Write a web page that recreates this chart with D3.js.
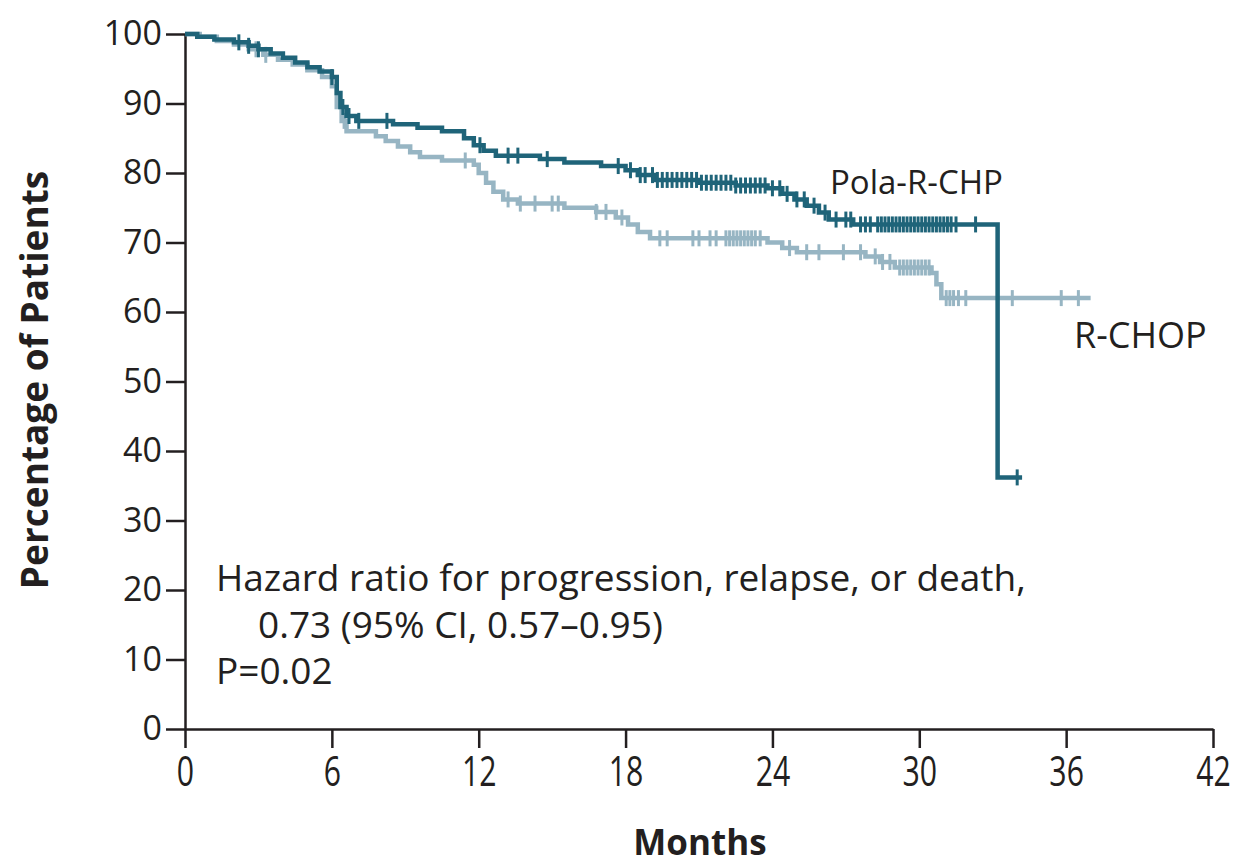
<!DOCTYPE html>
<html>
<head>
<meta charset="utf-8">
<script src="https://cdn.jsdelivr.net/npm/d3@7"></script>
<style>
  body { margin: 0; background: #fff; }
  text { font-family: "Open Sans", "Noto Sans", sans-serif; fill: #231f20; }
</style>
</head>
<body>
<svg id="chart"></svg>
<script>
// Данные: ступенчатые кривые Каплана–Мейера (месяц, процент)
let polaTimes  = [0, 0.5, 1.2, 2.0, 2.6, 3.0, 3.5, 4.0, 4.5, 5.0, 5.5, 6.0, 6.2, 6.35, 6.6, 7.0, 8.5, 9.5, 10.5, 11.4, 11.8, 12.2, 12.7, 14.5, 15.5, 17.0, 18.0, 18.5, 19.2, 21.0, 22.5, 23.8, 24.4, 24.9, 25.4, 25.9, 26.3, 27.3, 33.2];
let polaValues = [100, 99.6, 99.2, 98.8, 98.3, 97.8, 97.2, 96.6, 95.9, 95.2, 94.6, 93.8, 91.5, 89.5, 88.2, 87.5, 87.0, 86.5, 86.0, 85.0, 84.0, 83.2, 82.5, 82.0, 81.5, 81.0, 80.4, 79.7, 79.0, 78.6, 78.2, 77.8, 77.0, 76.2, 75.3, 74.3, 73.3, 72.6, 36.2];
let polaEnd = 34.2;
let polaCensored = [2.2, 2.6, 3.0, 6.0, 6.45, 6.7, 7.1, 8.25, 12.05, 13.2, 13.6, 14.8, 17.7, 18.2, 18.6, 18.8, 19.1, 19.3, 19.5, 19.7, 19.9, 20.1, 20.3, 20.5, 20.7, 20.9, 21.1, 21.3, 21.5, 21.7, 21.9, 22.1, 22.3, 22.5, 22.7, 22.9, 23.1, 23.3, 23.5, 23.7, 24.0, 24.3, 24.6, 25.0, 25.3, 25.7, 26.15, 26.6, 27.0, 27.2, 27.6, 27.8, 28.0, 28.3, 28.45, 28.6, 28.75, 28.9, 29.05, 29.2, 29.35, 29.5, 29.65, 29.8, 29.95, 30.1, 30.25, 30.4, 30.55, 30.7, 30.85, 31.0, 31.15, 31.3, 31.5, 32.3, 34.0];

let rchopTimes  = [0, 0.6, 1.3, 2.0, 2.6, 3.2, 3.8, 4.4, 5.0, 5.6, 6.0, 6.2, 6.4, 6.6, 7.8, 8.2, 8.7, 9.2, 9.6, 10.5, 11.8, 12.0, 12.3, 12.6, 13.0, 13.6, 15.5, 16.8, 17.6, 18.1, 18.5, 19.0, 23.8, 24.4, 25.0, 27.8, 28.4, 29.0, 30.5, 30.7, 30.9];
let rchopValues = [100, 99.6, 99.0, 98.5, 97.8, 97.0, 96.3, 95.6, 94.8, 93.8, 92.5, 89.5, 87.5, 86.0, 85.3, 84.6, 83.8, 83.0, 82.3, 81.8, 81.2, 80.0, 78.6, 77.3, 76.2, 75.6, 75.0, 74.4, 73.6, 72.6, 71.5, 70.6, 70.0, 69.2, 68.6, 68.0, 67.2, 66.4, 65.6, 64.0, 62.0];
let rchopEnd = 37.0;
let rchopCensored = [2.9, 3.3, 6.5, 11.45, 13.2, 13.7, 14.3, 15.0, 15.25, 16.8, 17.2, 17.85, 19.4, 19.7, 20.75, 21.0, 21.45, 21.7, 22.1, 22.25, 22.4, 22.55, 22.7, 22.85, 23.0, 23.15, 23.3, 23.5, 24.7, 25.4, 25.9, 26.9, 27.6, 28.2, 28.5, 28.8, 29.2, 29.35, 29.5, 29.65, 29.8, 29.95, 30.1, 30.25, 30.4, 31.1, 31.25, 31.4, 31.6, 31.9, 33.2, 33.8, 35.8, 36.5];

let xTicks = [0, 6, 12, 18, 24, 30, 36, 42];
let yTicks = [0, 10, 20, 30, 40, 50, 60, 70, 80, 90, 100];

let width = 1236;
let height = 867;

let darkColor = "#1f6479";
let lightColor = "#97b5c3";

let svg = d3.select("#chart")
  .attr("width", width)
  .attr("height", height);

// Шкалы
let x = d3.scaleLinear().domain([0, 42]).range([185, 1213]);
let y = d3.scaleLinear().domain([0, 100]).range([729, 34]);

// Оси
let xAxis = svg.append("g")
  .attr("transform", `translate(0, ${y(0)})`)
  .call(d3.axisBottom(x).tickValues(xTicks).tickSize(19).tickSizeOuter(0).tickPadding(8));

xAxis.selectAll("text")
  .style("font-size", "42px")
  .attr("transform", "scale(0.72,1)");

let yAxis = svg.append("g")
  .attr("transform", `translate(${x(0)}, 0)`)
  .call(d3.axisLeft(y).tickValues(yTicks).tickSize(19).tickSizeOuter(0).tickPadding(4));

yAxis.selectAll("text")
  .style("font-size", "34px");

svg.selectAll(".domain, .tick line")
  .attr("stroke", "#231f20")
  .attr("stroke-width", 2.5);

// Кривая из массивов
let makePoints = (times, values, end) => {
  let pts = times.map((t, i) => [t, values[i]]);
  pts.push([end, values[values.length - 1]]);
  return pts;
}

let stepValue = (times, values, t) => {
  let i = d3.bisectRight(times, t) - 1;
  return values[Math.max(i, 0)];
}

let line = d3.line()
  .x(d => x(d[0]))
  .y(d => y(d[1]))
  .curve(d3.curveStepAfter);

let drawCurve = (times, values, end, censored, color) => {
  let g = svg.append("g");
  g.append("path")
    .attr("d", line(makePoints(times, values, end)))
    .attr("fill", "none")
    .attr("stroke", color)
    .attr("stroke-width", 4.5);

  g.selectAll("line.cens")
    .data(censored)
    .join("line")
    .attr("class", "cens")
    .attr("x1", d => x(d))
    .attr("x2", d => x(d))
    .attr("y1", d => y(stepValue(times, values, d)) - 8)
    .attr("y2", d => y(stepValue(times, values, d)) + 8)
    .attr("stroke", color)
    .attr("stroke-width", 3);
}

drawCurve(rchopTimes, rchopValues, rchopEnd, rchopCensored, lightColor);
drawCurve(polaTimes, polaValues, polaEnd, polaCensored, darkColor);

// Подписи кривых
svg.append("text")
  .attr("x", 830)
  .attr("y", 194)
  .style("font-size", "33px")
  .text("Pola-R-CHP");

svg.append("text")
  .attr("x", 1074)
  .attr("y", 348)
  .style("font-size", "36px")
  .text("R-CHOP");

// Аннотация
let note = svg.append("g").style("font-size", "37px");
note.append("text").attr("x", 216).attr("y", 591)
  .text("Hazard ratio for progression, relapse, or death,");
note.append("text").attr("x", 258).attr("y", 638)
  .text("0.73 (95% CI, 0.57\u20130.95)");
note.append("text").attr("x", 216).attr("y", 684)
  .text("P=0.02");

// Заголовки осей
svg.append("text")
  .attr("transform", `translate(48, 380) rotate(-90)`)
  .attr("text-anchor", "middle")
  .style("font-size", "37px")
  .style("font-weight", "bold")
  .text("Percentage of Patients");

svg.append("text")
  .attr("x", 700)
  .attr("y", 855)
  .attr("text-anchor", "middle")
  .style("font-size", "35px")
  .style("font-weight", "bold")
  .text("Months");
</script>
</body>
</html>
